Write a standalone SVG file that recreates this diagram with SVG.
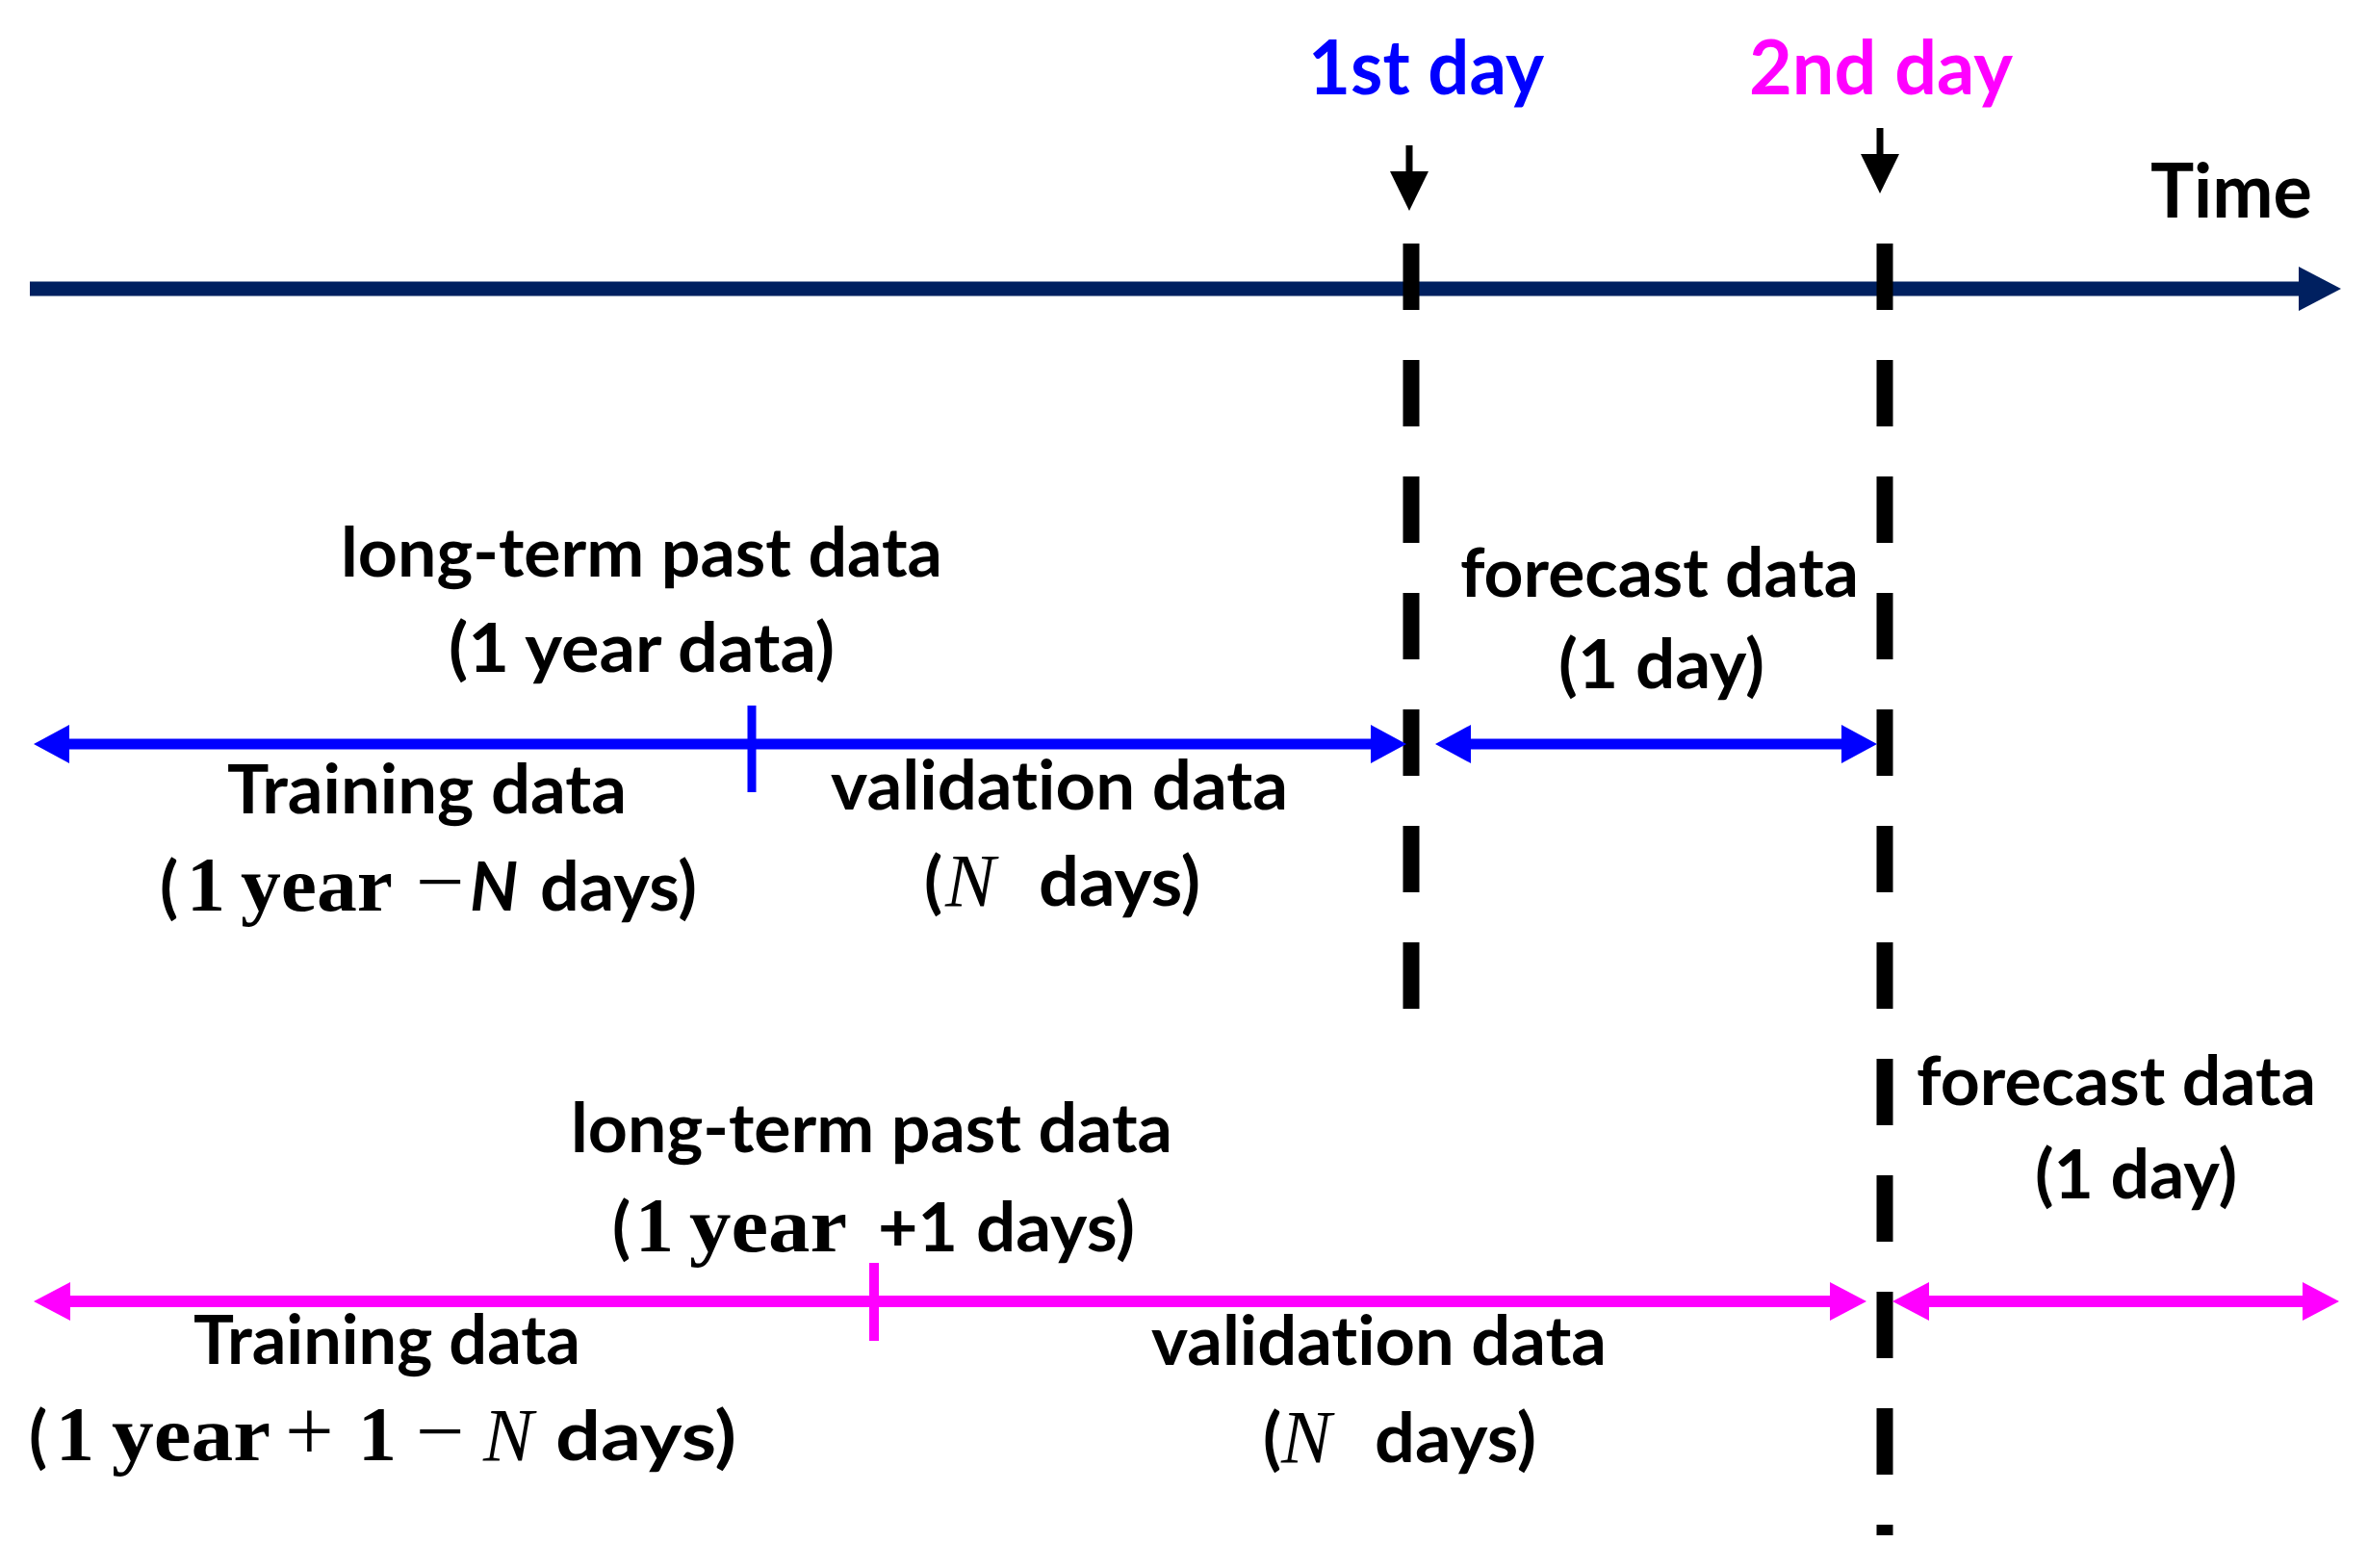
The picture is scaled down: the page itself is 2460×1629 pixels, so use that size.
<svg xmlns="http://www.w3.org/2000/svg" width="2460" height="1629" viewBox="0 0 2460 1629">
<style>
.t{font-family:Lato,"Open Sans","Liberation Sans",sans-serif;font-weight:bold;font-size:70px;fill:#000;font-variant-ligatures:none}
.big{font-size:78px}
.m{font-family:"Liberation Serif",serif;font-weight:bold;font-size:80px}
.mn{font-family:"Liberation Serif",serif;font-weight:normal;font-size:78px}
.op{font-family:"Liberation Serif",serif;font-weight:normal;font-size:90px}
.it{font-style:italic}
.dash{stroke:#000;stroke-width:17;stroke-dasharray:69 52;fill:none}
</style>
<defs>
<marker id="hNavy" viewBox="0 -23 44 46" markerWidth="44" markerHeight="46" refX="0" refY="0" markerUnits="userSpaceOnUse" orient="auto-start-reverse"><path d="M0,-23 L44,0 L0,23 z" fill="#002060"/></marker>
<marker id="hBlack" viewBox="0 -20 41 40" markerWidth="41" markerHeight="40" refX="0" refY="0" markerUnits="userSpaceOnUse" orient="auto-start-reverse"><path d="M0,-20 L41,0 L0,20 z" fill="#000"/></marker>
<marker id="hBlue" viewBox="0 -20 37 40" markerWidth="37" markerHeight="40" refX="0" refY="0" markerUnits="userSpaceOnUse" orient="auto-start-reverse"><path d="M0,-20 L37,0 L0,20 z" fill="#0000FF"/></marker>
<marker id="hMag" viewBox="0 -20 38 40" markerWidth="38" markerHeight="40" refX="0" refY="0" markerUnits="userSpaceOnUse" orient="auto-start-reverse"><path d="M0,-20 L38,0 L0,20 z" fill="#FF00FF"/></marker>
</defs>
<rect width="2460" height="1629" fill="#fff"/>
<g id="connectors">
<line x1="31" y1="300" x2="2388" y2="300" stroke="#002060" stroke-width="15" marker-end="url(#hNavy)"/>
<line x1="1464" y1="151" x2="1464" y2="178" stroke="#000" stroke-width="7" marker-end="url(#hBlack)"/>
<line x1="1953" y1="133" x2="1953" y2="160" stroke="#000" stroke-width="7" marker-end="url(#hBlack)"/>
<line class="dash" x1="1466" y1="253" x2="1466" y2="1048"/>
<line class="dash" x1="1958" y1="253" x2="1958" y2="1595"/>
<line x1="72" y1="773" x2="1424" y2="773" stroke="#0000FF" stroke-width="11" marker-start="url(#hBlue)" marker-end="url(#hBlue)"/>
<line x1="781" y1="733" x2="781" y2="823" stroke="#0000FF" stroke-width="9"/>
<line x1="1528" y1="773" x2="1913" y2="773" stroke="#0000FF" stroke-width="11" marker-start="url(#hBlue)" marker-end="url(#hBlue)"/>
<line x1="73" y1="1352" x2="1901" y2="1352" stroke="#FF00FF" stroke-width="12" marker-start="url(#hMag)" marker-end="url(#hMag)"/>
<line x1="908" y1="1312" x2="908" y2="1393" stroke="#FF00FF" stroke-width="10"/>
<line x1="2004" y1="1352" x2="2392" y2="1352" stroke="#FF00FF" stroke-width="12" marker-start="url(#hMag)" marker-end="url(#hMag)"/>
</g>
<g id="day1"><text class="t big" x="1359" y="98" style="fill:#0000FF" textLength="245" lengthAdjust="spacingAndGlyphs">1st day</text></g>
<g id="day2"><text class="t big" x="1817" y="98" style="fill:#FF00FF" textLength="274" lengthAdjust="spacingAndGlyphs">2nd day</text></g>
<g id="time"><text class="t big" x="2234" y="226" textLength="168" lengthAdjust="spacingAndGlyphs">Time</text></g>
<g id="row1-past">
<text class="t" x="354" y="599" textLength="625" lengthAdjust="spacingAndGlyphs">long-term past data</text>
<text class="t" x="466" y="698" textLength="401" lengthAdjust="spacingAndGlyphs">(1 year data)</text>
</g>
<g id="row1-training">
<text class="t" x="236" y="845" textLength="415" lengthAdjust="spacingAndGlyphs">Training data</text>
<text class="t" y="946"><tspan x="166">(</tspan><tspan class="m" x="194">1</tspan><tspan class="m" x="250" textLength="158" lengthAdjust="spacingAndGlyphs">year</tspan><tspan class="op" x="432">−</tspan><tspan class="it" x="488">N</tspan><tspan x="561" textLength="163" lengthAdjust="spacingAndGlyphs">days)</tspan></text>
</g>
<g id="row1-validation">
<text class="t" x="863" y="841" textLength="475" lengthAdjust="spacingAndGlyphs">validation data</text>
<text class="t" y="941"><tspan x="960">(</tspan><tspan class="mn it" x="982">N</tspan><tspan x="1079" textLength="168" lengthAdjust="spacingAndGlyphs">days)</tspan></text>
</g>
<g id="row1-forecast">
<text class="t" x="1517" y="620" textLength="414" lengthAdjust="spacingAndGlyphs">forecast data</text>
<text class="t" x="1619" y="715" textLength="214" lengthAdjust="spacingAndGlyphs">(1 day)</text>
</g>
<g id="row2-past">
<text class="t" x="593" y="1197" textLength="625" lengthAdjust="spacingAndGlyphs">long-term past data</text>
<text class="t" y="1300"><tspan x="636">(</tspan><tspan class="m" x="660">1</tspan><tspan class="m" x="716" textLength="164" lengthAdjust="spacingAndGlyphs">year</tspan><tspan x="912" textLength="83" lengthAdjust="spacingAndGlyphs">+1</tspan><tspan x="1014" textLength="165" lengthAdjust="spacingAndGlyphs">days)</tspan></text>
</g>
<g id="row2-training">
<text class="t" x="201" y="1417" textLength="402" lengthAdjust="spacingAndGlyphs">Training data</text>
<text class="t" y="1517"><tspan x="30">(</tspan><tspan class="m" x="58">1</tspan><tspan class="m" x="116" textLength="165" lengthAdjust="spacingAndGlyphs">year</tspan><tspan class="op" x="296">+</tspan><tspan class="m" x="372">1</tspan><tspan class="op" x="432">−</tspan><tspan class="mn it" x="502">N</tspan><tspan x="577" textLength="188" lengthAdjust="spacingAndGlyphs">days)</tspan></text>
</g>
<g id="row2-validation">
<text class="t" x="1196" y="1418" textLength="473" lengthAdjust="spacingAndGlyphs">validation data</text>
<text class="t" y="1519"><tspan x="1312">(</tspan><tspan class="mn it" x="1331">N</tspan><tspan x="1428" textLength="168" lengthAdjust="spacingAndGlyphs">days)</tspan></text>
</g>
<g id="row2-forecast">
<text class="t" x="1991" y="1148" textLength="415" lengthAdjust="spacingAndGlyphs">forecast data</text>
<text class="t" x="2114" y="1245" textLength="210" lengthAdjust="spacingAndGlyphs">(1 day)</text>
</g>
</svg>
